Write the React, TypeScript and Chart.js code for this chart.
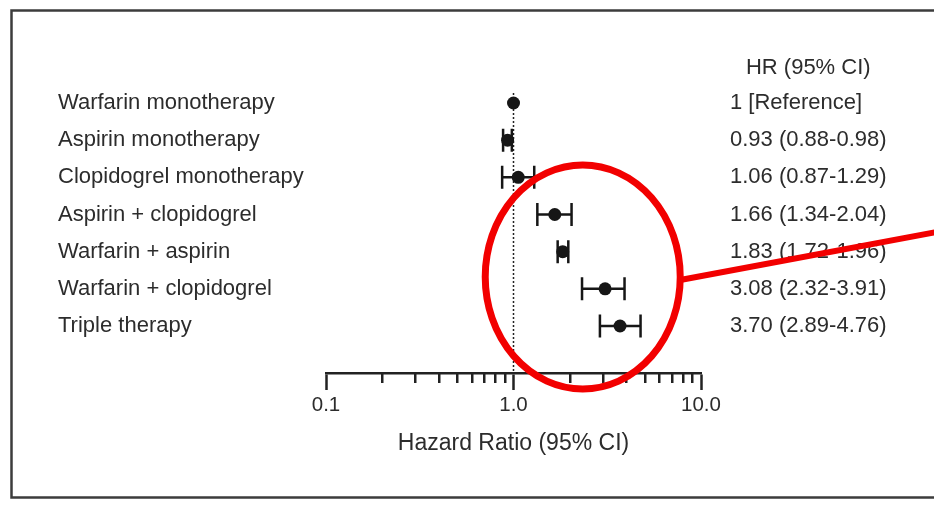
import { useEffect, useRef } from "react";
import { Chart, registerables } from "chart.js";

Chart.register(...registerables);

// Treatment groups, top to bottom
const therapies = [
  "Warfarin monotherapy",
  "Aspirin monotherapy",
  "Clopidogrel monotherapy",
  "Aspirin + clopidogrel",
  "Warfarin + aspirin",
  "Warfarin + clopidogrel",
  "Triple therapy",
];

// Hazard ratios with 95% confidence limits (reference group has none)
const hazardRatios = [1, 0.93, 1.06, 1.66, 1.83, 3.08, 3.7];
const ciLower: (number | null)[] = [null, 0.88, 0.87, 1.34, 1.72, 2.32, 2.89];
const ciUpper: (number | null)[] = [null, 0.98, 1.29, 2.04, 1.96, 3.91, 4.76];

// Right-hand column text
const columnHeader = "HR (95% CI)";
const hrLabels = [
  "1 [Reference]",
  "0.93 (0.88-0.98)",
  "1.06 (0.87-1.29)",
  "1.66 (1.34-2.04)",
  "1.83 (1.72-1.96)",
  "3.08 (2.32-3.91)",
  "3.70 (2.89-4.76)",
];

// Log axis
const majorTicks = [0.1, 1, 10];
const majorTickLabels = ["0.1", "1.0", "10.0"];
const minorTicks = [0.2, 0.3, 0.4, 0.5, 0.6, 0.7, 0.8, 0.9, 2, 3, 4, 5, 6, 7, 8, 9];
const axisTitle = "Hazard Ratio (95% CI)";

// Highlighted region (hazard-ratio value and row position of its centre)
const highlightCenterHR = 2.34;
const highlightCenterRow = 4.68;

const FONT_FAMILY = '"Liberation Sans", Arial, sans-serif';
const TEXT_COLOR = "#2c2c2c";
const INK = "#161616";

const forestPlugin = {
  id: "forestDecorations",
  beforeDraw(chart: any) {
    const { ctx, width } = chart;
    ctx.save();
    ctx.fillStyle = "#ffffff";
    ctx.fillRect(0, 0, chart.width, chart.height);
    // frame around the figure (open to the right)
    ctx.strokeStyle = "#3c3c3c";
    ctx.lineWidth = 2.5;
    ctx.beginPath();
    ctx.moveTo(width + 10, 10.5);
    ctx.lineTo(11.5, 10.5);
    ctx.lineTo(11.5, 497.5);
    ctx.lineTo(width + 10, 497.5);
    ctx.stroke();
    ctx.restore();
  },
  beforeDatasetsDraw(chart: any) {
    const { ctx, chartArea, scales } = chart;
    const xs = scales.x;
    const ys = scales.y;
    ctx.save();
    // line of no effect
    const x1 = xs.getPixelForValue(1);
    ctx.strokeStyle = "#222222";
    ctx.lineWidth = 1.5;
    ctx.setLineDash([2, 2]);
    ctx.beginPath();
    ctx.moveTo(x1, chartArea.top);
    ctx.lineTo(x1, chartArea.bottom);
    ctx.stroke();
    ctx.setLineDash([]);
    // confidence intervals
    ctx.strokeStyle = INK;
    ctx.lineWidth = 2.5;
    const cap = 11.5;
    therapies.forEach((_, i) => {
      const lo = ciLower[i];
      const hi = ciUpper[i];
      if (lo == null || hi == null) return;
      const y = ys.getPixelForValue(i);
      const xl = xs.getPixelForValue(lo);
      const xh = xs.getPixelForValue(hi);
      ctx.beginPath();
      ctx.moveTo(xl, y);
      ctx.lineTo(xh, y);
      ctx.moveTo(xl, y - cap);
      ctx.lineTo(xl, y + cap);
      ctx.moveTo(xh, y - cap);
      ctx.lineTo(xh, y + cap);
      ctx.stroke();
    });
    ctx.restore();
  },
  afterDraw(chart: any) {
    const { ctx, chartArea, scales, width } = chart;
    const xs = scales.x;
    const ys = scales.y;
    const y2 = scales.y2;
    ctx.save();
    // minor ticks of the log axis
    ctx.strokeStyle = "#222222";
    ctx.lineWidth = 2.5;
    ctx.beginPath();
    minorTicks.forEach((v) => {
      const x = Math.round(xs.getPixelForValue(v)) + 0.25;
      ctx.moveTo(x, chartArea.bottom);
      ctx.lineTo(x, chartArea.bottom + 10);
    });
    ctx.stroke();

    // column header centred over the HR column
    ctx.font = `22px ${FONT_FAMILY}`;
    const colLeft = y2.left + y2.options.ticks.padding;
    const colWidth = Math.max(...hrLabels.map((t) => ctx.measureText(t).width));
    ctx.fillStyle = TEXT_COLOR;
    ctx.textAlign = "center";
    ctx.textBaseline = "middle";
    ctx.fillText(columnHeader, colLeft + colWidth / 2, 68);

    // red highlight ellipse with its pointer line
    const cx = xs.getPixelForValue(highlightCenterHR);
    const cy = ys.getPixelForValue(highlightCenterRow);
    const rx = 97.5;
    const ry = 112;
    ctx.strokeStyle = "#f20000";
    ctx.lineWidth = 7;
    ctx.beginPath();
    ctx.ellipse(cx, cy, rx, ry, 0, 0, Math.PI * 2);
    ctx.stroke();
    const sx = cx + rx;
    const sy = cy + 3;
    ctx.lineWidth = 6;
    ctx.beginPath();
    ctx.moveTo(sx, sy);
    ctx.lineTo(width + 5, sy - (width + 5 - sx) * 0.187);
    ctx.stroke();
    ctx.restore();
  },
};

export default function App() {
  const canvasRef = useRef<HTMLCanvasElement | null>(null);

  useEffect(() => {
    const canvas = canvasRef.current;
    if (!canvas) return;
    const rowScale = (
      position: "left" | "right",
      labels: string[],
      width: number,
      size: number
    ) => ({
      type: "linear" as const,
      position,
      min: -0.269,
      max: 7.264,
      reverse: true,
      grid: { display: false, drawTicks: false },
      border: { display: false },
      afterBuildTicks: (s: any) => {
        s.ticks = labels.map((_, i) => ({ value: i }));
      },
      afterFit: (s: any) => {
        s.width = width;
      },
      ticks: {
        autoSkip: false,
        crossAlign: position === "left" ? ("far" as const) : ("near" as const),
        padding: position === "left" ? 0 : 29,
        font: { family: FONT_FAMILY, size, lineHeight: 1.2 },
        color: TEXT_COLOR,
        callback: (v: any) => labels[Number(v)] ?? "",
      },
    });

    const chart = new Chart(canvas, {
      type: "scatter",
      data: {
        datasets: [
          {
            data: hazardRatios.map((hr, i) => ({ x: hr, y: i })),
            pointRadius: 6.5,
            pointHoverRadius: 6.5,
            backgroundColor: INK,
            borderWidth: 0,
            xAxisID: "x",
            yAxisID: "y",
          },
        ],
      },
      options: {
        responsive: false,
        animation: false,
        devicePixelRatio: 1,
        layout: { padding: { left: 58, top: 93, right: 0, bottom: 0 } },
        plugins: { legend: { display: false }, tooltip: { enabled: false } },
        scales: {
          x: {
            type: "logarithmic",
            position: "bottom",
            min: 0.1,
            max: 10,
            border: { display: true, color: "#222222", width: 2.5 },
            grid: {
              display: true,
              drawOnChartArea: false,
              drawTicks: true,
              tickLength: 17,
              tickWidth: 2.5,
              tickColor: "#222222",
            },
            afterBuildTicks: (s: any) => {
              s.ticks = majorTicks.map((v) => ({ value: v }));
            },
            afterFit: (s: any) => {
              s.height = 135;
            },
            ticks: {
              autoSkip: false,
              maxRotation: 0,
              padding: 3,
              font: { family: FONT_FAMILY, size: 20.5, lineHeight: 1.2 },
              color: TEXT_COLOR,
              callback: (v: any) => {
                const idx = majorTicks.findIndex((t) => Math.abs(t - Number(v)) < 1e-9);
                return idx >= 0 ? majorTickLabels[idx] : "";
              },
            },
            title: {
              display: true,
              text: axisTitle,
              color: TEXT_COLOR,
              font: { family: FONT_FAMILY, size: 23, lineHeight: 1.2 },
              padding: { top: 0, bottom: 51 },
            },
          },
          y: rowScale("left", therapies, 268, 22),
          y2: rowScale("right", hrLabels, 233, 22),
        },
      },
      plugins: [forestPlugin],
    });
    return () => chart.destroy();
  }, []);

  return (
    <div style={{ position: "fixed", left: 0, top: 0, width: 934, height: 508, background: "#fff" }}>
      <canvas ref={canvasRef} width={934} height={508} style={{ display: "block", width: 934, height: 508 }} />
    </div>
  );
}
